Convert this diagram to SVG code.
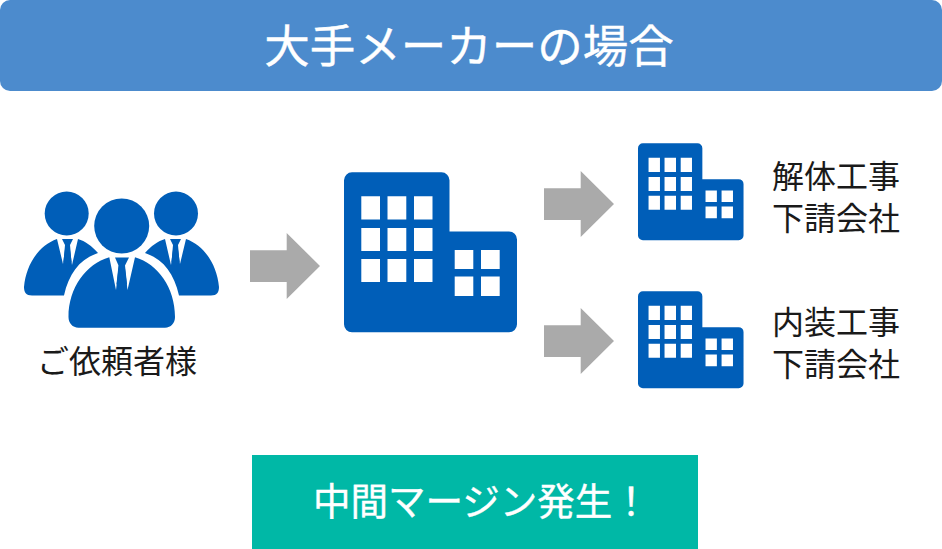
<svg xmlns="http://www.w3.org/2000/svg" xmlns:xlink="http://www.w3.org/1999/xlink" width="942" height="549" viewBox="0 0 942 549">
<style>
text{font-family:"Noto Sans CJK JP","Noto Sans",sans-serif}
.lbl{font-size:32px;fill:#1a1a1a}
.blue{fill:#005eb8}
.arrow{fill:#aaaaaa}
.ttl{fill:#fff;stroke:#fff;stroke-width:.4px}
</style>
<defs>
<g id="building">
<path class="blue" fill-rule="evenodd" d="M352 172.3H441.500A8 8 0 0 1 449.500 180.300V231.500H509A8 8 0 0 1 517 239.500V324.300A8 8 0 0 1 509 332.300H352A8 8 0 0 1 344 324.300V180.300A8 8 0 0 1 352 172.300Z
M361.300 196.300V219.500H380V196.300Z M387.500 196.300V219.500H406.300V196.300Z M414 196.300V219.500H432.500V196.300Z
M361.300 228V251H380V228Z M387.500 228V251H406.300V228Z M414 228V251H432.500V228Z
M361.300 259V282H380V259Z M387.500 259V282H406.300V259Z M414 259V282H432.500V259Z
M454.700 250V269H473.300V250Z M481 250V269H499.700V250Z
M454.700 276.500V296H473.300V276.500Z M481 276.500V296H499.700V276.500Z"/>
</g>
<path id="arrowShape" class="arrow" d="M0 17.300H36.700V0L70 33L36.700 66V49H0Z"/>
</defs>
<g id="title">
<rect x="0" y="0" width="942" height="91" rx="10" fill="#4c8bcd"/>
<text x="469" y="63" font-size="45.500" class="ttl" text-anchor="middle">大手メーカーの場合</text>
</g>
<g id="customer">
<circle class="blue" cx="66.700" cy="213.500" r="22"/>
<circle class="blue" cx="176" cy="213.500" r="22"/>
<path class="blue" d="M57 239L63 264L66 242H69L72 265L78 239C85 241 92 246 98 253C80 259 69 273 64 295.500H32C26 295.500 24 292 24 287C26 265 38 246 57 239Z"/>
<path class="blue" d="M186 239L180 264L177 242H174L171 265L165 239C158 241 151 246 145 253C163 259 174 273 179 295.500H211C217 295.500 219 292 219 287C217 265 205 246 186 239Z"/>
<path class="blue" d="M62 239H73L70 245L71.500 262L67.500 267L63.500 262L65 245Z"/>
<path class="blue" d="M170 239H181L178 245L179.500 262L175.500 267L171.500 262L173 245Z"/>
<circle class="blue" cx="121.700" cy="226" r="27.500"/>
<path class="blue" d="M109.300 257.300L116 290L119 264H124.500L127.500 290L135 257.300C158 264 175 288 175 317C175 323 171 327.700 165 327.700H78.500C72.500 327.700 68.500 323 68.500 317C68.500 288 86 264 109.300 257.300Z"/>
<path class="blue" d="M115 257.500H129L125 265.500L127 284L121.700 291L116.500 284L118.500 265.500Z"/>
<text x="117" y="373" class="lbl" text-anchor="middle">ご依頼者様</text>
</g>
<g id="contractor">
<use xlink:href="#building" href="#building"/>
</g>
<g id="sub1">
<use xlink:href="#building" href="#building" transform="translate(638 143.300) scale(.61 .606) translate(-344 -172.300)"/>
<text class="lbl" text-anchor="middle"><tspan x="836" y="188">解体工事</tspan><tspan x="836" y="230">下請会社</tspan></text>
</g>
<g id="sub2">
<use xlink:href="#building" href="#building" transform="translate(638 291.300) scale(.61 .606) translate(-344 -172.300)"/>
<text class="lbl" text-anchor="middle"><tspan x="836" y="333.500">内装工事</tspan><tspan x="836" y="375.500">下請会社</tspan></text>
</g>
<g id="connectors">
<use xlink:href="#arrowShape" href="#arrowShape" x="250" y="233"/>
<use xlink:href="#arrowShape" href="#arrowShape" x="544" y="171"/>
<use xlink:href="#arrowShape" href="#arrowShape" x="544" y="308"/>
</g>
<g id="margin">
<rect x="252" y="455" width="446" height="94" fill="#00b8a6"/>
<text x="313" y="515" font-size="37.500" class="ttl">中間マージン発生！</text>
</g>
</svg>
